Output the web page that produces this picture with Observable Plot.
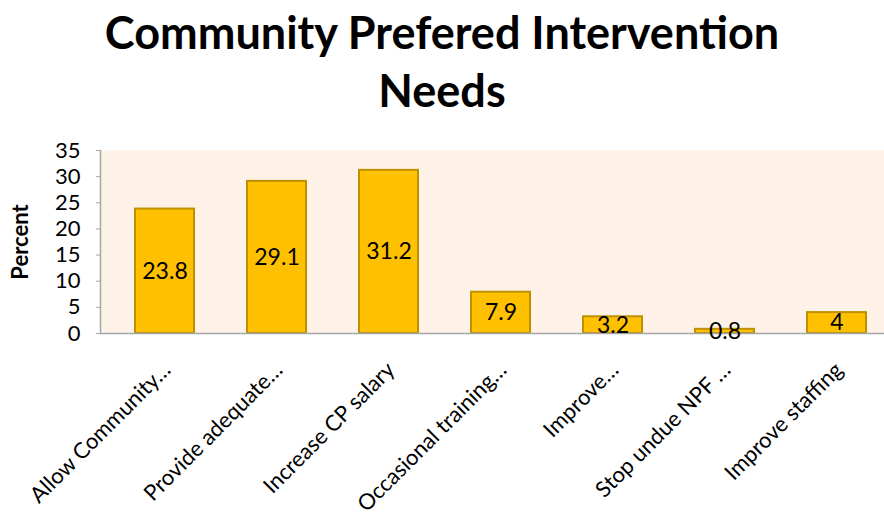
<!DOCTYPE html>
<html>
<head>
<meta charset="utf-8">
<script src="https://cdn.jsdelivr.net/npm/d3@7"></script>
<script src="https://cdn.jsdelivr.net/npm/@observablehq/plot@0.6"></script>
<style>
  html, body { margin: 0; padding: 0; background: #fff; }
  body { width: 884px; height: 520px; overflow: hidden; font-family: Lato, "Open Sans", sans-serif; }
  #title { height: 130px; text-align: center; font-weight: bold; font-size: 45px; line-height: 58px; color: #000; padding-top: 3px; box-sizing: border-box; }
</style>
</head>
<body>
<div id="title">Community Prefered Intervention<br>Needs</div>
<div id="chart"></div>
<script>
const categories = [
  "Allow Community…",
  "Provide adequate…",
  "Increase CP salary",
  "Occasional training…",
  "Improve…",
  "Stop undue NPF …",
  "Improve staffing"
];
const values = [23.8, 29.1, 31.2, 7.9, 3.2, 0.8, 4];
const yTicks = [0, 5, 10, 15, 20, 25, 30, 35];

const data = categories.map((c, i) => ({category: c, value: values[i]}));

const chart = Plot.plot({
  width: 884,
  height: 390,
  marginLeft: 100,
  marginRight: 0,
  marginTop: 20,
  marginBottom: 187,
  style: {fontFamily: "Lato, 'Open Sans', sans-serif", color: "#000", background: "transparent"},
  x: {domain: categories, padding: 0.47, insetLeft: -20, insetRight: -38, label: null},
  y: {domain: [0, 35], ticks: yTicks, label: null},
  marks: [
    Plot.frame({fill: "#FEF2E8", stroke: null}),
    Plot.barY(data, {x: "category", y: "value", fill: "#FFC000", stroke: "#BF9000", strokeWidth: 2}),
    Plot.ruleY([0], {stroke: "#A6A6A6", strokeWidth: 1.5}),
    Plot.frame({anchor: "left", stroke: "#A6A6A6", strokeWidth: 1.5}),
    Plot.axisY({ticks: yTicks, tickSize: 4, tickPadding: 16, fontSize: 22, stroke: "#A6A6A6", label: null}),
    Plot.axisX({tickSize: 0, tickRotate: -45, fontSize: 22, textAnchor: "end", dx: 2, dy: 21, label: null}),
    Plot.text(data, {x: "category", y: d => d.value / 2, text: d => String(d.value), fontSize: 23, fill: "#000"}),
    Plot.text(["Percent"], {frameAnchor: "left", textAnchor: "middle", dx: -80, rotate: -90, fontSize: 22, fontWeight: "bold", fill: "#000"})
  ]
});
document.getElementById("chart").appendChild(chart);
</script>
</body>
</html>
